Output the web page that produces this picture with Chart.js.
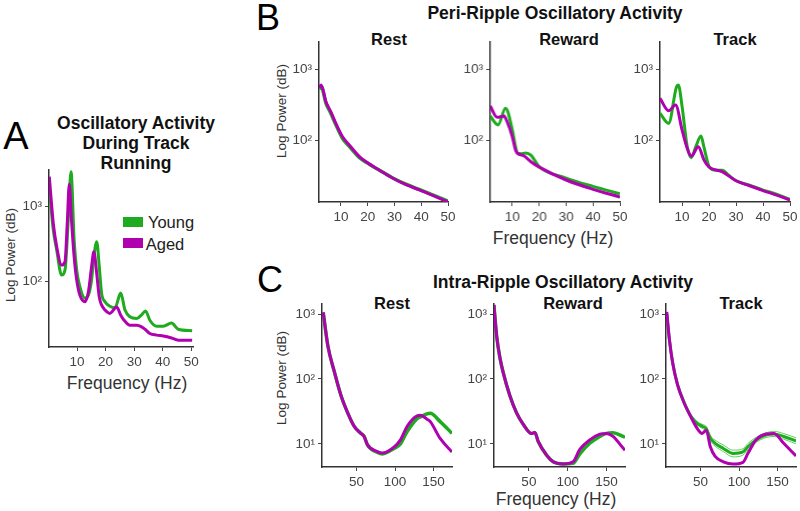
<!DOCTYPE html>
<html>
<head>
<meta charset="utf-8">
<script src="https://cdn.jsdelivr.net/npm/chart.js@4.4.1/dist/chart.umd.min.js"></script>
<style>
  body { margin: 0; background: #fff; width: 800px; height: 511px; position: relative; overflow: hidden;
         font-family: "Liberation Sans", Arial, sans-serif; }
  .t { position: absolute; white-space: nowrap; color: #222; transform: translate(-50%, -50%); }
  .b { font-weight: bold; color: #111; }
  .rot { transform: translate(-50%, -50%) rotate(-90deg); }
  canvas { position: absolute; }
  .box { position: absolute; width: 20px; height: 10px; }
</style>
</head>
<body>

<!-- panel letters -->
<div class="t" style="left:16px;top:136px;font-size:38px;color:#000">A</div>
<div class="t" style="left:268px;top:18px;font-size:36px;color:#000">B</div>
<div class="t" style="left:270px;top:280px;font-size:36px;color:#000">C</div>

<!-- panel A texts -->
<div class="t b" style="left:136px;top:143px;font-size:17.5px;line-height:20px;text-align:center">Oscillatory Activity<br>During Track<br>Running</div>
<div class="box" style="left:123px;top:217px;background:#1fab1f"></div>
<div class="t" style="left:171px;top:222px;font-size:16.5px">Young</div>
<div class="box" style="left:123px;top:238px;background:#b000b0"></div>
<div class="t" style="left:165px;top:244px;font-size:16.5px">Aged</div>
<div class="t rot" style="left:10px;top:255px;font-size:13.5px;color:#333">Log Power (dB)</div>
<div class="t" style="left:127px;top:383px;font-size:17.5px;color:#333">Frequency (Hz)</div>

<!-- panel B texts -->
<div class="t b" style="left:555px;top:13px;font-size:17.5px">Peri-Ripple Oscillatory Activity</div>
<div class="t b" style="left:389px;top:39px;font-size:16.5px">Rest</div>
<div class="t b" style="left:569px;top:39px;font-size:16.5px">Reward</div>
<div class="t b" style="left:735px;top:39px;font-size:16.5px">Track</div>
<div class="t rot" style="left:281px;top:111px;font-size:13.5px;color:#333">Log Power (dB)</div>
<div class="t" style="left:553px;top:238px;font-size:17.5px;color:#333">Frequency (Hz)</div>

<!-- panel C texts -->
<div class="t b" style="left:563px;top:282px;font-size:17.5px">Intra-Ripple Oscillatory Activity</div>
<div class="t b" style="left:392px;top:303px;font-size:16.5px">Rest</div>
<div class="t b" style="left:573px;top:303px;font-size:16.5px">Reward</div>
<div class="t b" style="left:741px;top:303px;font-size:16.5px">Track</div>
<div class="t rot" style="left:281px;top:378px;font-size:13.5px;color:#333">Log Power (dB)</div>
<div class="t" style="left:556px;top:499px;font-size:17.5px;color:#333">Frequency (Hz)</div>

<script>
// ---------- colours ----------
const GREEN = '#1fab1f';
const MAGENTA = '#b000b0';
const BAND = 'rgba(70, 200, 70, 0.85)';

// ---------- tick labels ----------
const lowFreqTicks = [10, 20, 30, 40, 50];
const highFreqTicks = [50, 100, 150];
const powerTicks = [10, 100, 1000];
const powerTickLabels = ['10\u00B9', '10\u00B2', '10\u00B3'];

// ---------- A: track running ----------
const aYoungHz  = [0.3, 1.7, 2.9, 4.6, 5.8, 7.0, 7.9, 9.0, 9.9, 11, 12.8, 14, 15.1, 15.9, 16.9, 17.8, 18.6, 19.8, 21.5, 23.3, 25.3, 26.8, 28.5, 30.9, 32.6, 34, 35.5, 37.9, 40.2, 43.1, 45.4, 50.3];
const aYoungPow = [1720, 478, 258, 120, 140, 720, 2870, 353, 140, 84, 59, 65, 103, 210, 333, 155, 69, 53, 46, 44, 69, 41, 33.4, 31.6, 35.5, 40, 30, 25, 25, 27.6, 22.8, 21.8];
const aAgedHz   = [0.3, 1.7, 2.9, 4.6, 5.8, 6.6, 7.3, 8.0, 9.0, 9.9, 11, 12.8, 14, 15.1, 15.9, 16.9, 17.8, 18.6, 19.8, 21.5, 23.9, 25.3, 26.8, 28.5, 30.9, 32.6, 34, 35.5, 37.9, 40.2, 43.1, 45.4, 50.3];
const aAgedPow  = [2460, 587, 287, 163, 181, 600, 1950, 720, 210, 103, 65, 53, 72, 155, 245, 126, 61, 48, 41, 37, 45, 35, 29, 25.7, 25.7, 24.5, 22.4, 20, 19, 18.5, 17.4, 16.3, 16.3];

// ---------- B: peri-ripple ----------
const bRestHz     = [1.8, 2.6, 4.4, 6.2, 8.1, 10.6, 13.1, 16.9, 19.4, 24.4, 29.4, 34.5, 39.5, 44.5, 50];
const bRestYoung  = [520, 570, 330, 240, 165, 106, 82, 57, 49, 38, 29.6, 24, 20.3, 17, 14];
const bRestAged   = [545, 597, 348, 252, 173, 112, 86, 59, 50, 38, 29.3, 23.6, 20, 16.7, 13.6];

const bRewardYoungHz = [1.8, 4.7, 7.5, 10, 11.2, 11.9, 13.2, 15, 16.9, 18.2, 20, 30, 40, 50];
const bRewardYoung   = [219, 164, 281, 140, 81, 66, 64.5, 66.5, 62, 53, 42.7, 29.5, 22.5, 17.7];
const bRewardAgedHz  = [1.8, 4.4, 6.9, 8.1, 10, 11.2, 11.9, 14.4, 16.9, 20, 30, 40, 50];
const bRewardAged    = [303, 210, 219, 182, 112, 73, 66, 60, 50, 42, 27.7, 20.5, 16];

const bTrackYoungHz = [1.8, 5.0, 7.9, 8.6, 10, 11.9, 13.4, 15, 17, 18.1, 20, 22.5, 25, 27, 30, 35, 40, 45, 50];
const bTrackYoung   = [240, 173, 560, 596, 296, 81, 57, 80, 115, 80, 43, 38, 38, 33, 27, 23.5, 20, 17.5, 14.8];
const bTrackAgedHz  = [1.8, 5.0, 7.6, 10, 11.9, 13.4, 16, 18.1, 20, 25, 30, 35, 40, 45, 50];
const bTrackAged    = [388, 260, 313, 139, 77, 60, 81, 53, 42, 36, 27, 23, 19.7, 17, 14.5];

// ---------- C: intra-ripple ----------
const cRestHz    = [6.6, 12.6, 21.2, 29.8, 38.4, 46.9, 55.5, 59.8, 64.2, 77, 83.5, 98.5, 107, 115.7, 128.6, 133, 141.5, 145.8, 158.6, 174];
const cRestYoung = [1060, 324, 127, 55, 30, 18.6, 14.5, 13, 9.6, 7.4, 7.0, 8.5, 10, 15.5, 24.5, 26, 29, 29.5, 22, 14.5];
const cRestAged  = [1060, 324, 127, 55, 30, 18.6, 14.5, 13, 9.6, 7.6, 7.2, 8.9, 11.5, 18.6, 27, 27.5, 24, 22, 12.1, 7.5];

const cRewardHz    = [4.9, 8.4, 12.6, 16.9, 25.5, 34.1, 42.7, 53.5, 57.7, 62, 72.8, 81.3, 94.2, 107, 115.7, 128.6, 141.5, 150, 158.6, 171.5, 174];
const cRewardYoung = [1380, 460, 213, 125, 55, 30, 20, 14.4, 15, 10.9, 6.7, 5.3, 4.9, 5.0, 7, 10.2, 13, 14.5, 14.8, 13, 12.6];
const cRewardAged  = [1380, 460, 213, 125, 55, 30, 20, 14.4, 15, 10.9, 6.7, 5.3, 4.9, 5.3, 8.2, 11.5, 14.1, 14.5, 13, 8.6, 8.0];

const cTrackHz      = [6, 9.4, 13.6, 20, 28.5, 37, 45.5, 52, 57.4, 62.5, 68.9, 79.5, 92.2, 105, 111.4, 122, 135, 145.4, 158, 174];
const cTrackYoung   = [1000, 400, 180, 82, 44, 27, 20.7, 18.6, 17, 12.3, 10.2, 8.5, 7.1, 7.5, 9, 11.5, 13.6, 14.2, 13, 11.1];
const cTrackYoungHi = [1050, 420, 190, 86, 46, 28.5, 22, 20, 18.5, 13.5, 11.4, 9.6, 8.0, 8.4, 10.1, 12.6, 14.8, 15.6, 14.4, 12.4];
const cTrackYoungLo = [950, 380, 170, 78, 42, 25.5, 19.5, 17.3, 15.6, 11.2, 9.2, 7.6, 6.3, 6.7, 8.0, 10.5, 12.5, 13, 11.8, 10];
const cTrackAged    = [1075, 410, 178, 81, 42.6, 26.5, 17.3, 14.5, 16.2, 9.1, 6.4, 5.3, 4.9, 5.2, 7.1, 11.5, 14.2, 14.5, 10.2, 6.5];

// ---------- helpers ----------
const FONT = '"Liberation Sans", Arial, sans-serif';
const YW = 40;   // fixed y-axis width
const XH = 30;   // fixed x-axis height
const PT = 6;
const PR = 14;

function pts(xs, ys) {
  return xs.map((x, i) => ({ x: x, y: ys[i] }));
}

function line(xs, ys, color, width) {
  return {
    data: pts(xs, ys),
    borderColor: color,
    borderWidth: width,
    pointRadius: 0,
    fill: false,
    cubicInterpolationMode: 'monotone'
  };
}

function panel(box, xMin, xMax, xTicks, yMin, yMax, datasets) {
  const cv = document.createElement('canvas');
  const w = box.r - box.l + YW + PR;
  const h = box.b - box.t + XH + PT;
  cv.width = w;
  cv.height = h;
  cv.style.left = (box.l - YW) + 'px';
  cv.style.top = (box.t - PT) + 'px';
  cv.style.width = w + 'px';
  cv.style.height = h + 'px';
  document.body.appendChild(cv);

  new Chart(cv, {
    type: 'line',
    data: { datasets: datasets },
    options: {
      responsive: false,
      animation: false,
      devicePixelRatio: 1,
      layout: { padding: { top: PT, right: PR, left: 0, bottom: 0 } },
      plugins: { legend: { display: false }, tooltip: { enabled: false } },
      scales: {
        x: {
          type: 'linear',
          min: xMin,
          max: xMax,
          afterBuildTicks: (s) => { s.ticks = xTicks.map(v => ({ value: v })); },
          afterFit: (s) => { s.height = XH; s.paddingLeft = 0; s.paddingRight = 0; },
          grid: { display: true, drawOnChartArea: false, drawTicks: true, tickLength: 4, color: '#444' },
          border: { display: true, color: '#333', width: 1.5 },
          ticks: { color: '#444', font: { family: FONT, size: 13.5 }, padding: 3, maxRotation: 0, autoSkip: false }
        },
        y: {
          type: 'logarithmic',
          min: yMin,
          max: yMax,
          afterBuildTicks: (s) => {
            s.ticks = powerTicks.filter(v => v >= yMin && v <= yMax).map(v => ({ value: v }));
          },
          afterFit: (s) => { s.width = YW; s.paddingTop = 0; s.paddingBottom = 0; },
          grid: { display: true, drawOnChartArea: false, drawTicks: true, tickLength: 4, color: '#444' },
          border: { display: true, color: '#333', width: 1.5 },
          ticks: {
            color: '#444',
            font: { family: FONT, size: 13.5 },
            padding: 3,
            autoSkip: false,
            callback: (v) => powerTickLabels[powerTicks.indexOf(v)]
          }
        }
      }
    }
  });
}

// ---------- draw ----------
const bMin = 1.8, bMax = 50;
const cMin = 5, cMax = 174;
const bYMin = 13.6, bYMax = 2400;
const cYMin = 4.4, cYMax = 1426;

// A
panel({ l: 49, t: 170, r: 193, b: 347 }, 0.2, 50.6, lowFreqTicks, 13.2, 3020, [
  line(aAgedHz, aAgedPow, MAGENTA, 3),
  line(aYoungHz, aYoungPow, GREEN, 3)
]);

// B
panel({ l: 319, t: 42, r: 448, b: 202 }, bMin, bMax, lowFreqTicks, bYMin, bYMax, [
  line(bRestHz, bRestAged, MAGENTA, 3),
  line(bRestHz, bRestYoung, GREEN, 3.5)
]);
panel({ l: 490, t: 42, r: 619.5, b: 202 }, bMin, bMax, lowFreqTicks, bYMin, bYMax, [
  line(bRewardAgedHz, bRewardAged, MAGENTA, 3),
  line(bRewardYoungHz, bRewardYoung, GREEN, 3)
]);
panel({ l: 660, t: 42, r: 790, b: 202 }, bMin, bMax, lowFreqTicks, bYMin, bYMax, [
  line(bTrackAgedHz, bTrackAged, MAGENTA, 3),
  line(bTrackYoungHz, bTrackYoung, GREEN, 3)
]);

// C
panel({ l: 322, t: 304, r: 452, b: 467 }, cMin, cMax, highFreqTicks, cYMin, cYMax, [
  line(cRestHz, cRestAged, MAGENTA, 3),
  line(cRestHz, cRestYoung, GREEN, 3.5)
]);
panel({ l: 494, t: 304, r: 625, b: 467 }, cMin, cMax, highFreqTicks, cYMin, cYMax, [
  line(cRewardHz, cRewardAged, MAGENTA, 3),
  line(cRewardHz, cRewardYoung, GREEN, 3.5)
]);
panel({ l: 665.5, t: 304, r: 796, b: 467 }, cMin, cMax, highFreqTicks, cYMin, cYMax, [
  line(cTrackHz, cTrackAged, MAGENTA, 3),
  line(cTrackHz, cTrackYoung, GREEN, 3),
  line(cTrackHz, cTrackYoungHi, BAND, 1),
  line(cTrackHz, cTrackYoungLo, BAND, 1)
]);
</script>
</body>
</html>
